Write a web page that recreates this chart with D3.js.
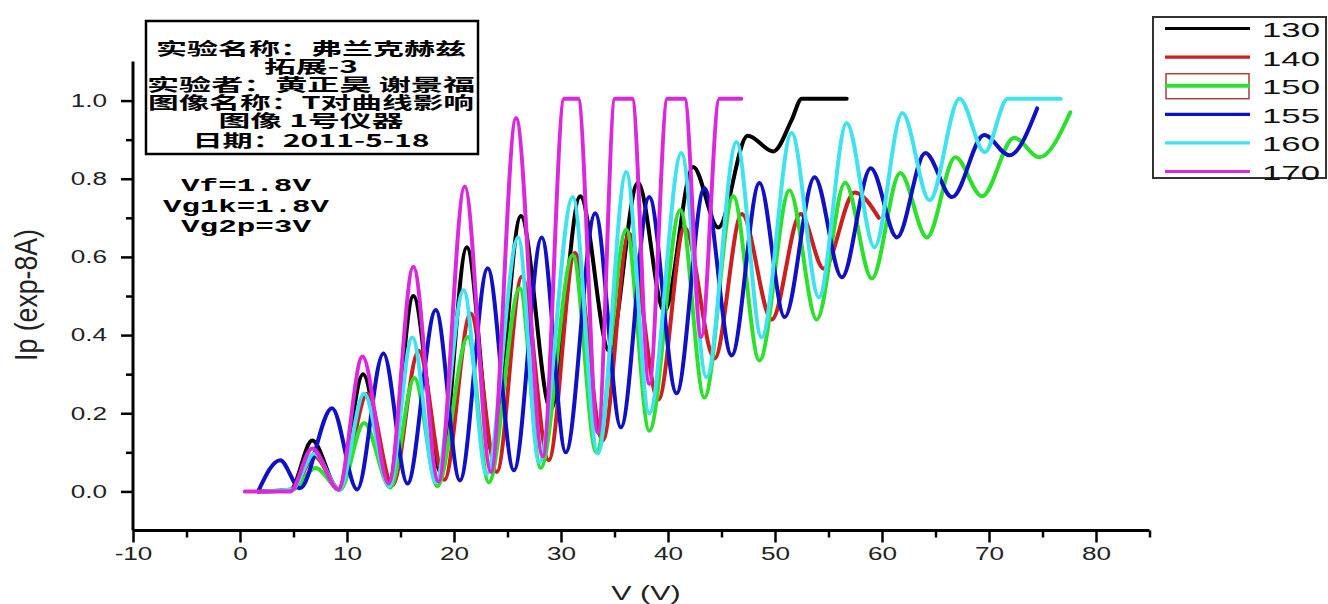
<!DOCTYPE html>
<html>
<head>
<meta charset="utf-8">
<script src="https://cdn.jsdelivr.net/npm/d3@7"></script>
<style>
  body { margin: 0; background: #fff; }
  svg { display: block; }
</style>
</head>
<body>
<div id="chart"></div>
<script>
// peak / valley points, [V, Ip]
const s130 = [[1.7,0.0],[4.7,0.003],[6.75,0.13],[9.2,0.005],[11.5,0.30],[13.9,0.02],[16.2,0.50],[18.75,0.05],[21.2,0.625],[23.6,0.10],[26.25,0.705],[29.05,0.21],[31.8,0.755],[34.5,0.36],[37.2,0.79],[39.65,0.46],[42.35,0.83],[44.7,0.675],[47.45,0.91],[49.85,0.87],[51.55,0.95],[52.5,1.005],[56.7,1.005]];
const s140 = [[2.05,0.0],[4.9,0.005],[6.95,0.09],[9.35,0.005],[11.9,0.25],[14.25,0.015],[16.7,0.36],[19.1,0.03],[21.55,0.455],[24.0,0.05],[26.35,0.55],[28.85,0.08],[31.3,0.61],[33.9,0.13],[36.35,0.66],[39.1,0.235],[41.55,0.675],[44.35,0.34],[46.9,0.71],[49.7,0.44],[52.4,0.71],[54.55,0.57],[57.45,0.765],[59.7,0.70]];
const s150 = [[2.35,0.0],[4.95,0.005],[7.05,0.06],[9.35,0.005],[11.6,0.175],[14.05,0.01],[16.3,0.29],[18.45,0.013],[21.3,0.395],[23.25,0.023],[26.15,0.52],[28.1,0.06],[31.1,0.605],[33.3,0.10],[36.1,0.67],[38.25,0.155],[41.15,0.72],[43.4,0.24],[46.1,0.755],[48.55,0.335],[51.35,0.77],[53.9,0.44],[56.55,0.79],[59.05,0.545],[61.7,0.815],[64.2,0.65],[66.85,0.855],[69.35,0.755],[72.35,0.905],[74.7,0.855],[77.6,0.97]];
const s155 = [[1.7,0.0],[3.75,0.08],[5.6,0.008],[8.6,0.213],[10.95,0.005],[13.4,0.353],[15.65,0.02],[18.3,0.464],[20.55,0.028],[23.15,0.571],[25.6,0.054],[28.2,0.65],[30.45,0.10],[33.2,0.712],[35.6,0.164],[38.25,0.753],[40.8,0.251],[43.4,0.776],[45.95,0.348],[48.55,0.789],[50.9,0.446],[53.7,0.804],[56.25,0.548],[58.95,0.827],[61.4,0.65],[64.05,0.866],[66.55,0.753],[69.55,0.912],[71.9,0.86],[74.5,0.98]];
const s160 = [[2.05,0.0],[4.85,0.005],[6.95,0.097],[9.3,0.005],[11.6,0.25],[13.95,0.013],[16.1,0.394],[18.3,0.023],[20.9,0.515],[23.05,0.044],[26.0,0.65],[27.95,0.074],[31.1,0.753],[33.45,0.097],[36.1,0.817],[38.25,0.20],[41.25,0.866],[43.6,0.292],[46.4,0.894],[48.75,0.394],[51.55,0.917],[54.1,0.497],[56.7,0.942],[59.3,0.625],[61.9,0.968],[64.45,0.745],[67.25,1.005],[69.6,0.868],[71.75,1.005],[76.7,1.005]];
const s170 = [[0.45,0.0],[4.7,0.0],[6.75,0.11],[9.2,0.005],[11.45,0.345],[13.9,0.02],[16.2,0.575],[18.55,0.025],[21.0,0.78],[23.45,0.05],[25.8,0.955],[28.3,0.09],[30.3,1.005],[31.6,1.005],[33.45,0.15],[35.05,1.005],[36.65,1.005],[38.25,0.275],[39.95,1.005],[41.55,1.005],[43.1,0.395],[44.8,1.005],[46.85,1.005]];

const seriesNames = ["130", "140", "150", "155", "160", "170"];
const seriesData = [s130, s140, s150, s155, s160, s170];
const seriesColors = ["#000000", "#cc2020", "#2ee02e", "#1010c4", "#40e2f0", "#dc28dc"];

const xMajor = [-10, 0, 10, 20, 30, 40, 50, 60, 70, 80];
const xMinor = [-5, 5, 15, 25, 35, 45, 55, 65, 75, 85];
const yMajor = [0.0, 0.2, 0.4, 0.6, 0.8, 1.0];
const yMinor = [0.1, 0.3, 0.5, 0.7, 0.9];

const infoLines = ["实验名称：弗兰克赫兹", "拓展-3", "实验者：黄正昊 谢景福", "图像名称：T对曲线影响", "图像 1号仪器", "日期：2011-5-18"];
const condLines = ["Vf=1.8V", "Vg1k=1.8V", "Vg2p=3V"];

const width = 1328, height = 604;
const stretch = 1.45;  // the original picture is wider than tall text would be

// text is squashed wider in the picture, so lengthen it
function widen(sel, k) {
  sel.each(function() {
    const len = this.getComputedTextLength();
    d3.select(this).attr("textLength", len * k).attr("lengthAdjust", "spacingAndGlyphs");
  });
}

const svg = d3.select("#chart").append("svg")
  .attr("width", width)
  .attr("height", height);

const x = d3.scaleLinear().domain([-10, 85]).range([133, 1149.5]);
const y = d3.scaleLinear().domain([-0.1, 1.1]).range([530.5, 61.5]);

// curves
const line = d3.line()
  .x(d => x(d[0]))
  .y(d => y(d[1]))
  .curve(d3.curveMonotoneX);

svg.append("g").selectAll("path")
  .data(seriesData)
  .join("path")
    .attr("d", line)
    .attr("fill", "none")
    .attr("stroke", (d, i) => seriesColors[i])
    .attr("stroke-width", 4)
    .attr("stroke-linejoin", "round")
    .attr("stroke-linecap", "round");

// axes
function styleAxis(g) {
  g.select(".domain").attr("stroke", "#000").attr("stroke-width", 3);
  g.selectAll(".tick line").attr("stroke", "#000").attr("stroke-width", 2.5);
}

const yAxis = svg.append("g")
  .attr("transform", `translate(${x(-10)},0)`)
  .call(d3.axisLeft(y).tickValues(yMajor).tickSize(12).tickPadding(14).tickFormat(d3.format(".1f")))
  .call(styleAxis);
yAxis.select(".domain").attr("d", `M0,${y(-0.1)}V${y(1.1)}`);

svg.append("g")
  .attr("transform", `translate(${x(-10)},0)`)
  .call(d3.axisLeft(y).tickValues(yMinor).tickSize(7).tickFormat(""))
  .call(styleAxis)
  .select(".domain").remove();

const xAxis = svg.append("g")
  .attr("transform", `translate(0,${y(-0.1)})`)
  .call(d3.axisBottom(x).tickValues(xMajor).tickSize(12).tickPadding(5).tickFormat(d => String(d)))
  .call(styleAxis);
xAxis.select(".domain").attr("d", `M${x(-10)},0H${x(85)}`);

svg.append("g")
  .attr("transform", `translate(0,${y(-0.1)})`)
  .call(d3.axisBottom(x).tickValues(xMinor).tickSize(7).tickFormat(""))
  .call(styleAxis)
  .select(".domain").remove();

svg.selectAll(".tick text")
  .attr("font-family", "'Liberation Sans', Arial, sans-serif")
  .attr("font-size", "18px")
  .attr("fill", "#222")
  .call(widen, stretch);

// axis titles
svg.append("text")
  .attr("x", 646)
  .attr("y", 592)
  .attr("text-anchor", "middle")
  .attr("dominant-baseline", "central")
  .attr("font-family", "'Liberation Sans', Arial, sans-serif")
  .attr("font-size", "21px")
  .attr("fill", "#222")
  .text("V (V)")
  .call(widen, stretch);

svg.append("text")
  .attr("transform", `translate(27,295) scale(${stretch},1) rotate(-90)`)
  .attr("text-anchor", "middle")
  .attr("dominant-baseline", "central")
  .attr("font-family", "'Liberation Sans', Arial, sans-serif")
  .attr("font-size", "21px")
  .attr("fill", "#222")
  .attr("textLength", 132)
  .attr("lengthAdjust", "spacingAndGlyphs")
  .text("Ip (exp-8A)");

// info box
svg.append("rect")
  .attr("x", 146).attr("y", 21)
  .attr("width", 332).attr("height", 133)
  .attr("fill", "#fff")
  .attr("stroke", "#000")
  .attr("stroke-width", 2.5);

const infoY = [47, 65, 83, 101, 119, 139];
const infoW = [310, 94, 328, 326, 185, 237];
svg.append("g").selectAll("text")
  .data(infoLines)
  .join("text")
    .attr("x", 311)
    .attr("y", (d, i) => infoY[i])
    .attr("text-anchor", "middle")
    .attr("dominant-baseline", "central")
    .attr("font-family", "'Noto Sans CJK SC', sans-serif")
    .attr("font-weight", "bold")
    .attr("font-size", "17.5px")
    .attr("fill", "#000")
    .attr("textLength", (d, i) => infoW[i])
    .attr("lengthAdjust", "spacingAndGlyphs")
    .text(d => d);

// measurement conditions
const condW = [130, 166, 130];
svg.append("g").selectAll("text")
  .data(condLines)
  .join("text")
    .attr("x", 246)
    .attr("y", (d, i) => 186 + i * 20.5)
    .attr("text-anchor", "middle")
    .attr("dominant-baseline", "central")
    .attr("font-family", "'Liberation Mono', 'DejaVu Sans Mono', monospace")
    .attr("font-weight", "bold")
    .attr("font-size", "18px")
    .attr("fill", "#000")
    .attr("textLength", (d, i) => condW[i])
    .attr("lengthAdjust", "spacingAndGlyphs")
    .text(d => d);

// legend
const legend = svg.append("g");
legend.append("rect")
  .attr("x", 1153).attr("y", 17)
  .attr("width", 173).attr("height", 161)
  .attr("fill", "#fff")
  .attr("stroke", "#333")
  .attr("stroke-width", 2);

const legendRows = legend.selectAll("g")
  .data(seriesNames)
  .join("g")
    .attr("transform", (d, i) => `translate(0,${28.5 + i * 28.6})`);

legendRows.filter((d, i) => i === 2)
  .append("rect")
    .attr("x", 1166).attr("y", -12)
    .attr("width", 83).attr("height", 25)
    .attr("fill", "none")
    .attr("stroke", "#a84040")
    .attr("stroke-width", 1.5);

legendRows.append("line")
  .attr("x1", 1165).attr("x2", 1250)
  .attr("stroke", (d, i) => seriesColors[i])
  .attr("stroke-width", (d, i) => i === 2 ? 4 : 3.2);

legendRows.append("text")
  .attr("x", 1262)
  .attr("y", 1)
  .attr("dominant-baseline", "central")
  .attr("font-family", "'Liberation Sans', Arial, sans-serif")
  .attr("font-size", "21px")
  .attr("fill", "#111")
  .attr("textLength", 58)
  .attr("lengthAdjust", "spacingAndGlyphs")
  .text(d => d);
</script>
</body>
</html>
